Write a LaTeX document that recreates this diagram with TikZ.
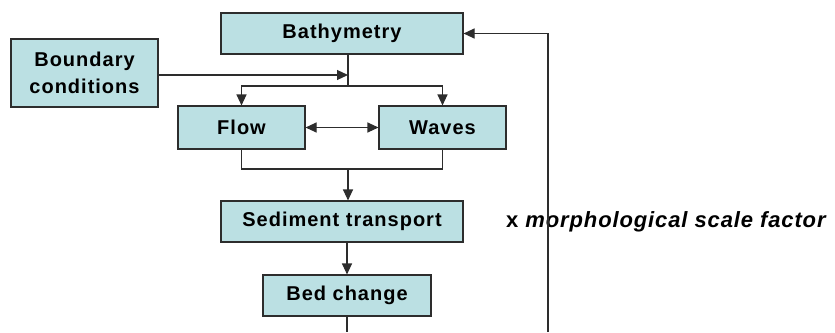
\documentclass[tikz,border=0pt]{standalone}
\usepackage{fontspec}
\setmainfont{Liberation Sans}
\newfontfamily\boxfont[LetterSpace=5]{Liberation Sans}
\newfontfamily\morfont[LetterSpace=4]{Liberation Sans}
\usetikzlibrary{arrows.meta}
\definecolor{boxfill}{RGB}{187,224,227}
\definecolor{edge}{RGB}{45,45,45}
\begin{document}
\begin{tikzpicture}[x=1pt,y=-1pt,
  box/.style={draw=edge,line width=1.1pt,fill=boxfill,rectangle,inner sep=0pt,
    align=center,font=\boxfont\bfseries\fontsize{20}{27}\selectfont},
  conn/.style={draw=edge,line width=1.1pt},
  arr/.style={conn,-{Triangle[length=11pt,width=10pt]}},
  arrtwo/.style={conn,{Triangle[length=11pt,width=10pt]}-{Triangle[length=11pt,width=10pt]}}]
\useasboundingbox (0,0) rectangle (835,332);
\node[box,minimum width=242pt,minimum height=41pt] (bath) at (342,33.5) {Bathymetry};
\node[box,minimum width=147pt,minimum height=68pt] (bc) at (84.5,73) {Boundary\\conditions};
\node[box,minimum width=127pt,minimum height=43pt] (flow) at (241.5,127.5) {Flow};
\node[box,minimum width=127pt,minimum height=43pt] (waves) at (442.5,127.5) {Waves};
\node[box,minimum width=242pt,minimum height=41pt] (sed) at (342,221.5) {Sediment transport};
\node[box,minimum width=168pt,minimum height=41pt] (bed) at (347,295.5) {Bed change};
\node[anchor=base west,inner sep=0pt,font=\morfont\bfseries\fontsize{22}{26}\selectfont] (msf) at (506,227) {x \textit{morphological scale factor}};
\coordinate (J1) at (348,75);
\coordinate (S) at (348,86);
\coordinate (J) at (348,169);
\coordinate (B1) at (347,332);
\coordinate (F) at (548,332);
\draw[arr] (bc.east |- J1) -- (J1);
\draw[conn] (bath.south -| S) -- (S);
\draw[arr] (S) -| (flow.north);
\draw[arr] (S) -| (waves.north);
\draw[arrtwo] (flow.east) -- (waves.west);
\draw[conn] (flow.south) |- (J) -| (waves.south);
\draw[arr] (J) -- (sed.north -| J);
\draw[arr] (sed.south -| bed.north) -- (bed.north);
\draw[conn] (bed.south) -- (B1);
\draw[arr] (F) |- (bath.east);
\end{tikzpicture}
\end{document}
